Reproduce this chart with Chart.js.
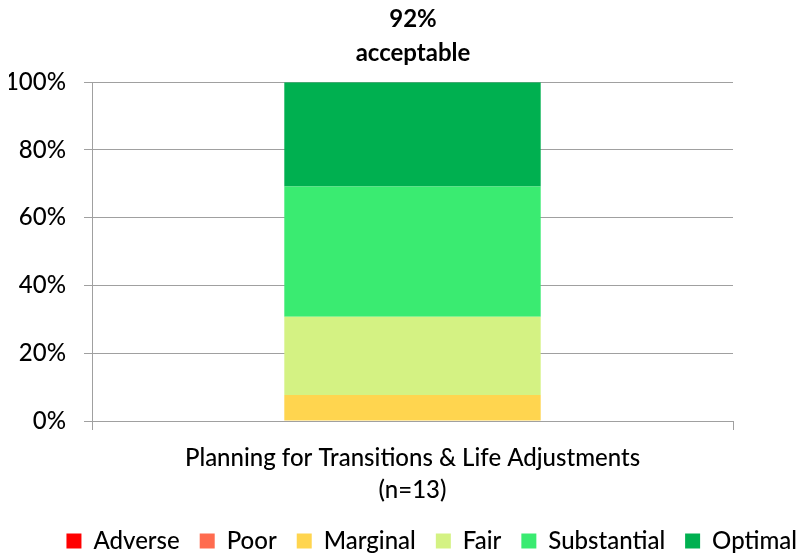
<!DOCTYPE html>
<html>
<head>
<meta charset="utf-8">
<script src="https://cdn.jsdelivr.net/npm/chart.js@4"></script>
<style>
html,body{margin:0;padding:0;background:#fff;}
#wrap{width:799px;height:554px;}
</style>
</head>
<body>
<div id="wrap"><canvas id="c" width="799" height="554"></canvas></div>
<script>
const categories = [['Planning for Transitions & Life Adjustments', '(n=13)']];
const seriesNames = ['Adverse', 'Poor', 'Marginal', 'Fair', 'Substantial', 'Optimal'];
const seriesColors = ['#FF0000', '#FF6B4F', '#FFD54F', '#D4F283', '#3AEB71', '#00B050'];
const adverse = [0];
const poor = [0];
const marginal = [7.69];
const fair = [23.08];
const substantial = [38.46];
const optimal = [30.77];
const yTicks = [0, 20, 40, 60, 80, 100];
const titleLines = ['92%', 'acceptable'];

const values = [adverse, poor, marginal, fair, substantial, optimal];
const FONT = 'Lato, Carlito, sans-serif';

new Chart(document.getElementById('c'), {
  type: 'bar',
  data: {
    labels: categories,
    datasets: seriesNames.map((n, i) => ({
      label: n,
      data: values[i],
      backgroundColor: seriesColors[i],
      borderWidth: 0,
      barPercentage: 0.4,
      categoryPercentage: 1.0,
      yAxisID: 'y'
    }))
  },
  options: {
    responsive: false,
    animation: false,
    devicePixelRatio: 1,
    layout: { padding: { left: 9, right: -18, top: 0, bottom: -9 } },
    plugins: {
      title: {
        display: true,
        text: titleLines,
        color: '#000',
        font: { family: FONT, size: 24, weight: 'bold', lineHeight: 1.42 },
        padding: { top: 2, bottom: 12 }
      },
      legend: {
        position: 'bottom',
        align: 'end',
        labels: {
          color: '#000',
          font: { family: FONT, size: 24, weight: 500 },
          boxWidth: 15,
          boxHeight: 15,
          padding: 20
        }
      },
      tooltip: { enabled: false }
    },
    scales: {
      x: {
        stacked: true,
        afterFit: (s) => { s.height = 88; },
        grid: { offset: true, drawOnChartArea: false, color: '#A0A0A0', tickLength: 9 },
        border: { color: '#A0A0A0' },
        ticks: { color: '#000', font: { family: FONT, size: 24, weight: 500, lineHeight: 1.33 }, padding: 12, maxRotation: 0 }
      },
      y: {
        stacked: true,
        position: 'left',
        min: 0, max: 100,
        afterFit: (s) => { s.width = 83; },
        afterBuildTicks: (s) => { s.ticks = yTicks.map(v => ({ value: v })); },
        grid: { color: '#A0A0A0', tickLength: 8 },
        border: { color: '#A0A0A0' },
        ticks: { color: '#000', font: { family: FONT, size: 24, weight: 500 }, padding: 18, callback: v => v + '%' }
      },
      yR: {
        position: 'right',
        display: true,
        afterFit: (s) => { s.width = 84; },
        grid: { display: false },
        border: { display: false },
        ticks: { display: false }
      }
    }
  }
});
</script>
</body>
</html>
